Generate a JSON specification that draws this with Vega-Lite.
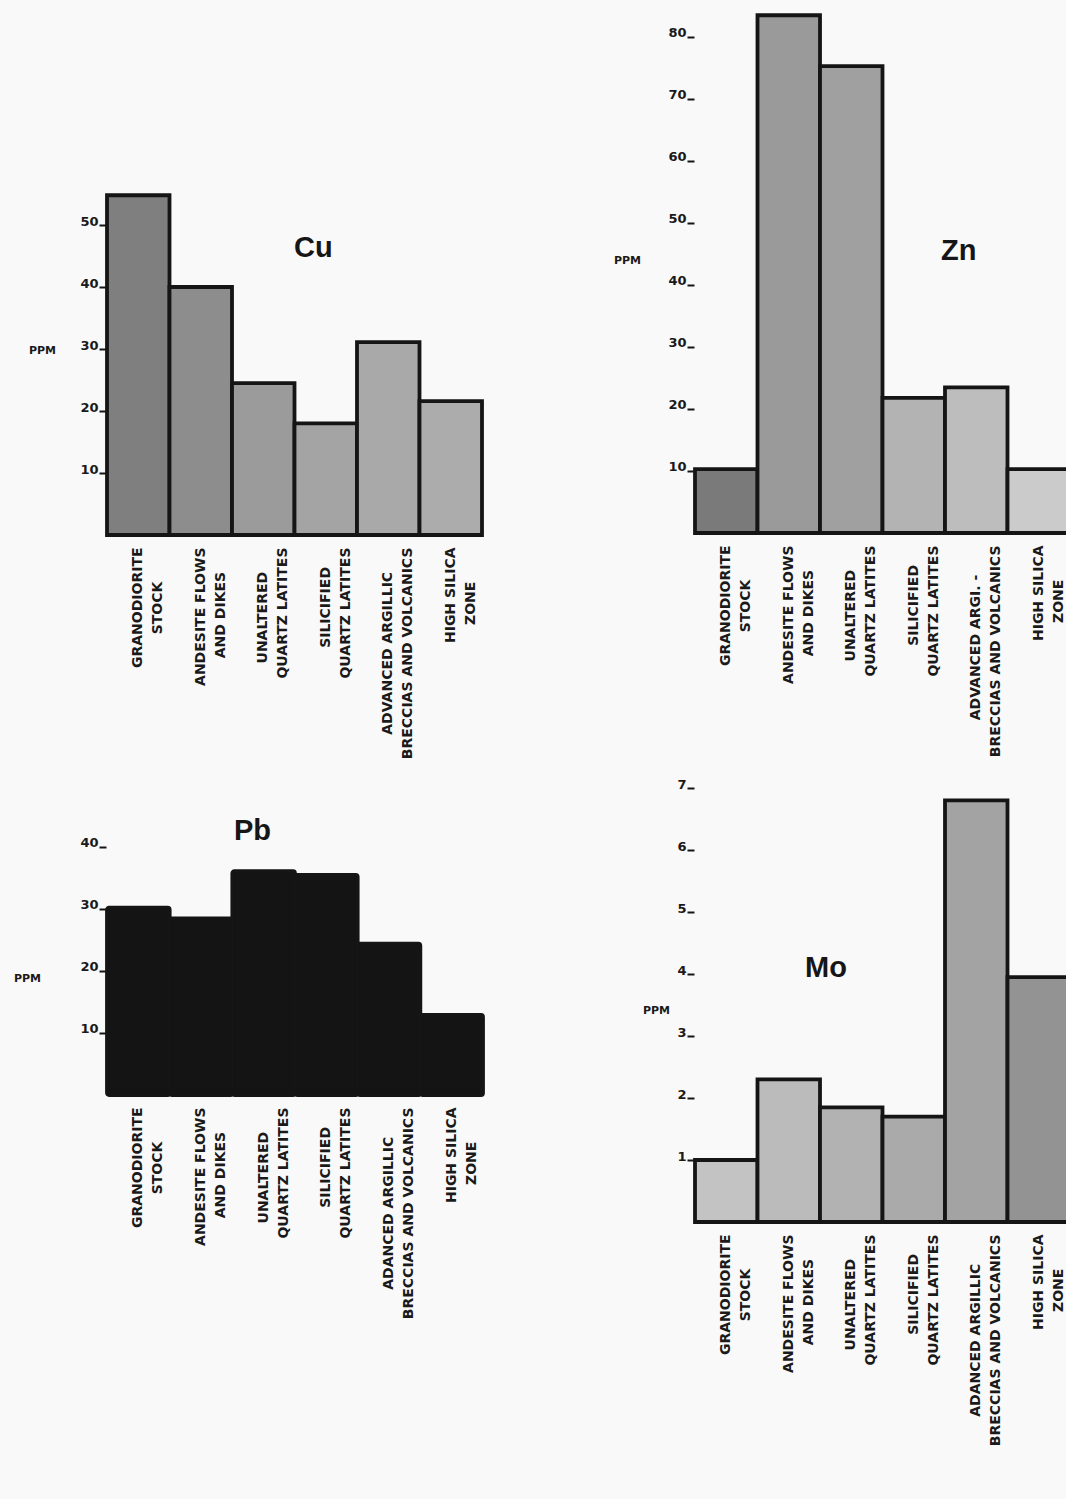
{
  "$schema": "https://vega.github.io/schema/vega-lite/v6.json",
  "autosize": "none",
  "padding": {"left": 107, "top": 10, "right": 959, "bottom": 1489},
  "background": "#f9f9f9",
  "data": {
    "values": [
      {"metal": "Cu", "unit": "GRANODIORITE|STOCK", "ppm": 54.8},
      {"metal": "Cu", "unit": "ANDESITE FLOWS|AND DIKES", "ppm": 40.0},
      {"metal": "Cu", "unit": "UNALTERED|QUARTZ LATITES", "ppm": 24.5},
      {"metal": "Cu", "unit": "SILICIFIED|QUARTZ LATITES", "ppm": 18.0},
      {"metal": "Cu", "unit": "ADVANCED ARGILLIC|BRECCIAS AND VOLCANICS", "ppm": 31.1},
      {"metal": "Cu", "unit": "HIGH SILICA|ZONE", "ppm": 21.6},
      {"metal": "Zn", "unit": "GRANODIORITE|STOCK", "ppm": 10.3},
      {"metal": "Zn", "unit": "ANDESITE FLOWS|AND DIKES", "ppm": 83.5},
      {"metal": "Zn", "unit": "UNALTERED|QUARTZ LATITES", "ppm": 75.3},
      {"metal": "Zn", "unit": "SILICIFIED|QUARTZ LATITES", "ppm": 21.8},
      {"metal": "Zn", "unit": "ADVANCED ARGI. -|BRECCIAS AND VOLCANICS", "ppm": 23.5},
      {"metal": "Zn", "unit": "HIGH SILICA|ZONE", "ppm": 10.3},
      {"metal": "Pb", "unit": "GRANODIORITE|STOCK", "ppm": 30.2},
      {"metal": "Pb", "unit": "ANDESITE FLOWS|AND DIKES", "ppm": 28.5},
      {"metal": "Pb", "unit": "UNALTERED|QUARTZ LATITES", "ppm": 36.1},
      {"metal": "Pb", "unit": "SILICIFIED|QUARTZ LATITES", "ppm": 35.5},
      {"metal": "Pb", "unit": "ADANCED ARGILLIC|BRECCIAS AND VOLCANICS", "ppm": 24.4},
      {"metal": "Pb", "unit": "HIGH SILICA|ZONE", "ppm": 12.9},
      {"metal": "Mo", "unit": "GRANODIORITE|STOCK", "ppm": 1.0},
      {"metal": "Mo", "unit": "ANDESITE FLOWS|AND DIKES", "ppm": 2.3},
      {"metal": "Mo", "unit": "UNALTERED|QUARTZ LATITES", "ppm": 1.85},
      {"metal": "Mo", "unit": "SILICIFIED|QUARTZ LATITES", "ppm": 1.7},
      {"metal": "Mo", "unit": "ADANCED ARGILLIC|BRECCIAS AND VOLCANICS", "ppm": 6.8},
      {"metal": "Mo", "unit": "HIGH SILICA|ZONE", "ppm": 3.95}
    ]
  },
  "columns": 2,
  "spacing": {"row": 245, "column": 212},
  "bounds": "flush",
  "align": "all",
  "resolve": {"scale": {"x": "independent", "y": "independent", "fill": "independent"}},
  "config": {
    "view": {"stroke": null},
    "font": "DejaVu Sans",
    "title": {
      "font": "Liberation Sans",
      "fontSize": 29,
      "fontWeight": "bold",
      "color": "#161616",
      "anchor": "start",
      "offset": 0,
      "frame": "group"
    },
    "axisX": {
      "title": null,
      "domain": false,
      "ticks": false,
      "grid": false,
      "labelAngle": -90,
      "labelAlign": "right",
      "labelBaseline": "middle",
      "labelPadding": 12,
      "labelFont": "DejaVu Sans",
      "labelFontSize": 14,
      "labelFontWeight": "bold",
      "labelLineHeight": 20,
      "labelColor": "#1a1a1a",
      "labelLimit": 0,
      "labelOverlap": false,
      "labelExpr": "[split(datum.value, '|')[0] + pad('', length(split(datum.value, '|')[1]) - length(split(datum.value, '|')[0]), '\u00a0') + '\u200b', split(datum.value, '|')[1] + pad('', length(split(datum.value, '|')[0]) - length(split(datum.value, '|')[1]), '\u00a0') + '\u200b']"
    },
    "axisY": {
      "domain": false,
      "grid": false,
      "offset": 1,
      "tickSize": 7,
      "tickWidth": 2,
      "tickColor": "#151515",
      "labelPadding": 1,
      "labelFont": "DejaVu Sans",
      "labelFontSize": 13,
      "labelFontWeight": "bold",
      "labelColor": "#1a1a1a",
      "labelAlign": "right",
      "labelBaseline": "alphabetic",
      "labelOverlap": false,
      "labelFlush": false,
      "titleAngle": 0,
      "titleAlign": "center",
      "titleBaseline": "middle",
      "titleFont": "DejaVu Sans",
      "titleFontSize": 11,
      "titleFontWeight": "bold",
      "titleColor": "#1a1a1a"
    },
    "bar": {"stroke": "#151515", "strokeWidth": 3.8, "strokeJoin": "miter"}
  },
  "concat": [
    {
      "width": 375,
      "height": 525,
      "title": {"text": "Cu", "dx": 187, "dy": 257},
      "transform": [{"filter": "datum.metal === 'Cu'"}],
      "mark": {"type": "bar"},
      "encoding": {
        "x": {"field": "unit", "type": "nominal", "sort": null, "scale": {"paddingInner": 0, "paddingOuter": 0}},
        "y": {"field": "ppm", "type": "quantitative", "scale": {"domain": [0, 84.68], "nice": false},
              "axis": {"title": "PPM", "values": [10, 20, 30, 40, 50], "titleX": -64, "titleY": 340}},
        "fill": {"field": "unit", "type": "nominal", "legend": null,
                 "scale": {"domain": ["GRANODIORITE|STOCK", "ANDESITE FLOWS|AND DIKES", "UNALTERED|QUARTZ LATITES", "SILICIFIED|QUARTZ LATITES", "ADVANCED ARGILLIC|BRECCIAS AND VOLCANICS", "HIGH SILICA|ZONE"],
                           "range": ["#7f7f7f", "#8d8d8d", "#9b9b9b", "#a4a4a4", "#a9a9a9", "#acacac"]}}
      }
    },
    {
      "width": 375,
      "height": 523,
      "title": {"text": "Zn", "dx": 246, "dy": 260},
      "transform": [{"filter": "datum.metal === 'Zn'"}],
      "mark": {"type": "bar"},
      "encoding": {
        "x": {"field": "unit", "type": "nominal", "sort": null, "scale": {"paddingInner": 0, "paddingOuter": 0}},
        "y": {"field": "ppm", "type": "quantitative", "scale": {"domain": [0, 84.35], "nice": false},
              "axis": {"title": "PPM", "values": [10, 20, 30, 40, 50, 60, 70, 80], "titleX": -67, "titleY": 250}},
        "fill": {"field": "unit", "type": "nominal", "legend": null,
                 "scale": {"domain": ["GRANODIORITE|STOCK", "ANDESITE FLOWS|AND DIKES", "UNALTERED|QUARTZ LATITES", "SILICIFIED|QUARTZ LATITES", "ADVANCED ARGI. -|BRECCIAS AND VOLCANICS", "HIGH SILICA|ZONE"],
                           "range": ["#7a7a7a", "#9a9a9a", "#a0a0a0", "#b3b3b3", "#bdbdbd", "#cbcbcb"]}}
      }
    },
    {
      "width": 376,
      "height": 315,
      "title": {"text": "Pb", "dx": 127, "dy": 70},
      "transform": [{"filter": "datum.metal === 'Pb'"}],
      "mark": {"type": "bar", "cornerRadius": 2},
      "encoding": {
        "x": {"field": "unit", "type": "nominal", "sort": null, "scale": {"paddingInner": 0, "paddingOuter": 0}},
        "y": {"field": "ppm", "type": "quantitative", "scale": {"domain": [0, 50.8], "nice": false},
              "axis": {"title": "PPM", "values": [10, 20, 30, 40], "titleX": -79, "titleY": 198}},
        "fill": {"field": "unit", "type": "nominal", "legend": null,
                 "scale": {"domain": ["GRANODIORITE|STOCK", "ANDESITE FLOWS|AND DIKES", "UNALTERED|QUARTZ LATITES", "SILICIFIED|QUARTZ LATITES", "ADANCED ARGILLIC|BRECCIAS AND VOLCANICS", "HIGH SILICA|ZONE"],
                           "range": ["#141414", "#141414", "#141414", "#141414", "#141414", "#141414"]}}
      }
    },
    {
      "width": 375,
      "height": 442,
      "title": {"text": "Mo", "dx": 110, "dy": 209},
      "transform": [{"filter": "datum.metal === 'Mo'"}],
      "mark": {"type": "bar"},
      "encoding": {
        "x": {"field": "unit", "type": "nominal", "sort": null, "scale": {"paddingInner": 0, "paddingOuter": 0}},
        "y": {"field": "ppm", "type": "quantitative", "scale": {"domain": [0, 7.13], "nice": false},
              "axis": {"title": "PPM", "values": [1, 2, 3, 4, 5, 6, 7], "titleX": -38, "titleY": 230}},
        "fill": {"field": "unit", "type": "nominal", "legend": null,
                 "scale": {"domain": ["GRANODIORITE|STOCK", "ANDESITE FLOWS|AND DIKES", "UNALTERED|QUARTZ LATITES", "SILICIFIED|QUARTZ LATITES", "ADANCED ARGILLIC|BRECCIAS AND VOLCANICS", "HIGH SILICA|ZONE"],
                           "range": ["#c3c3c3", "#bbbbbb", "#b2b2b2", "#aaaaaa", "#a3a3a3", "#939393"]}}
      }
    }
  ]
}
